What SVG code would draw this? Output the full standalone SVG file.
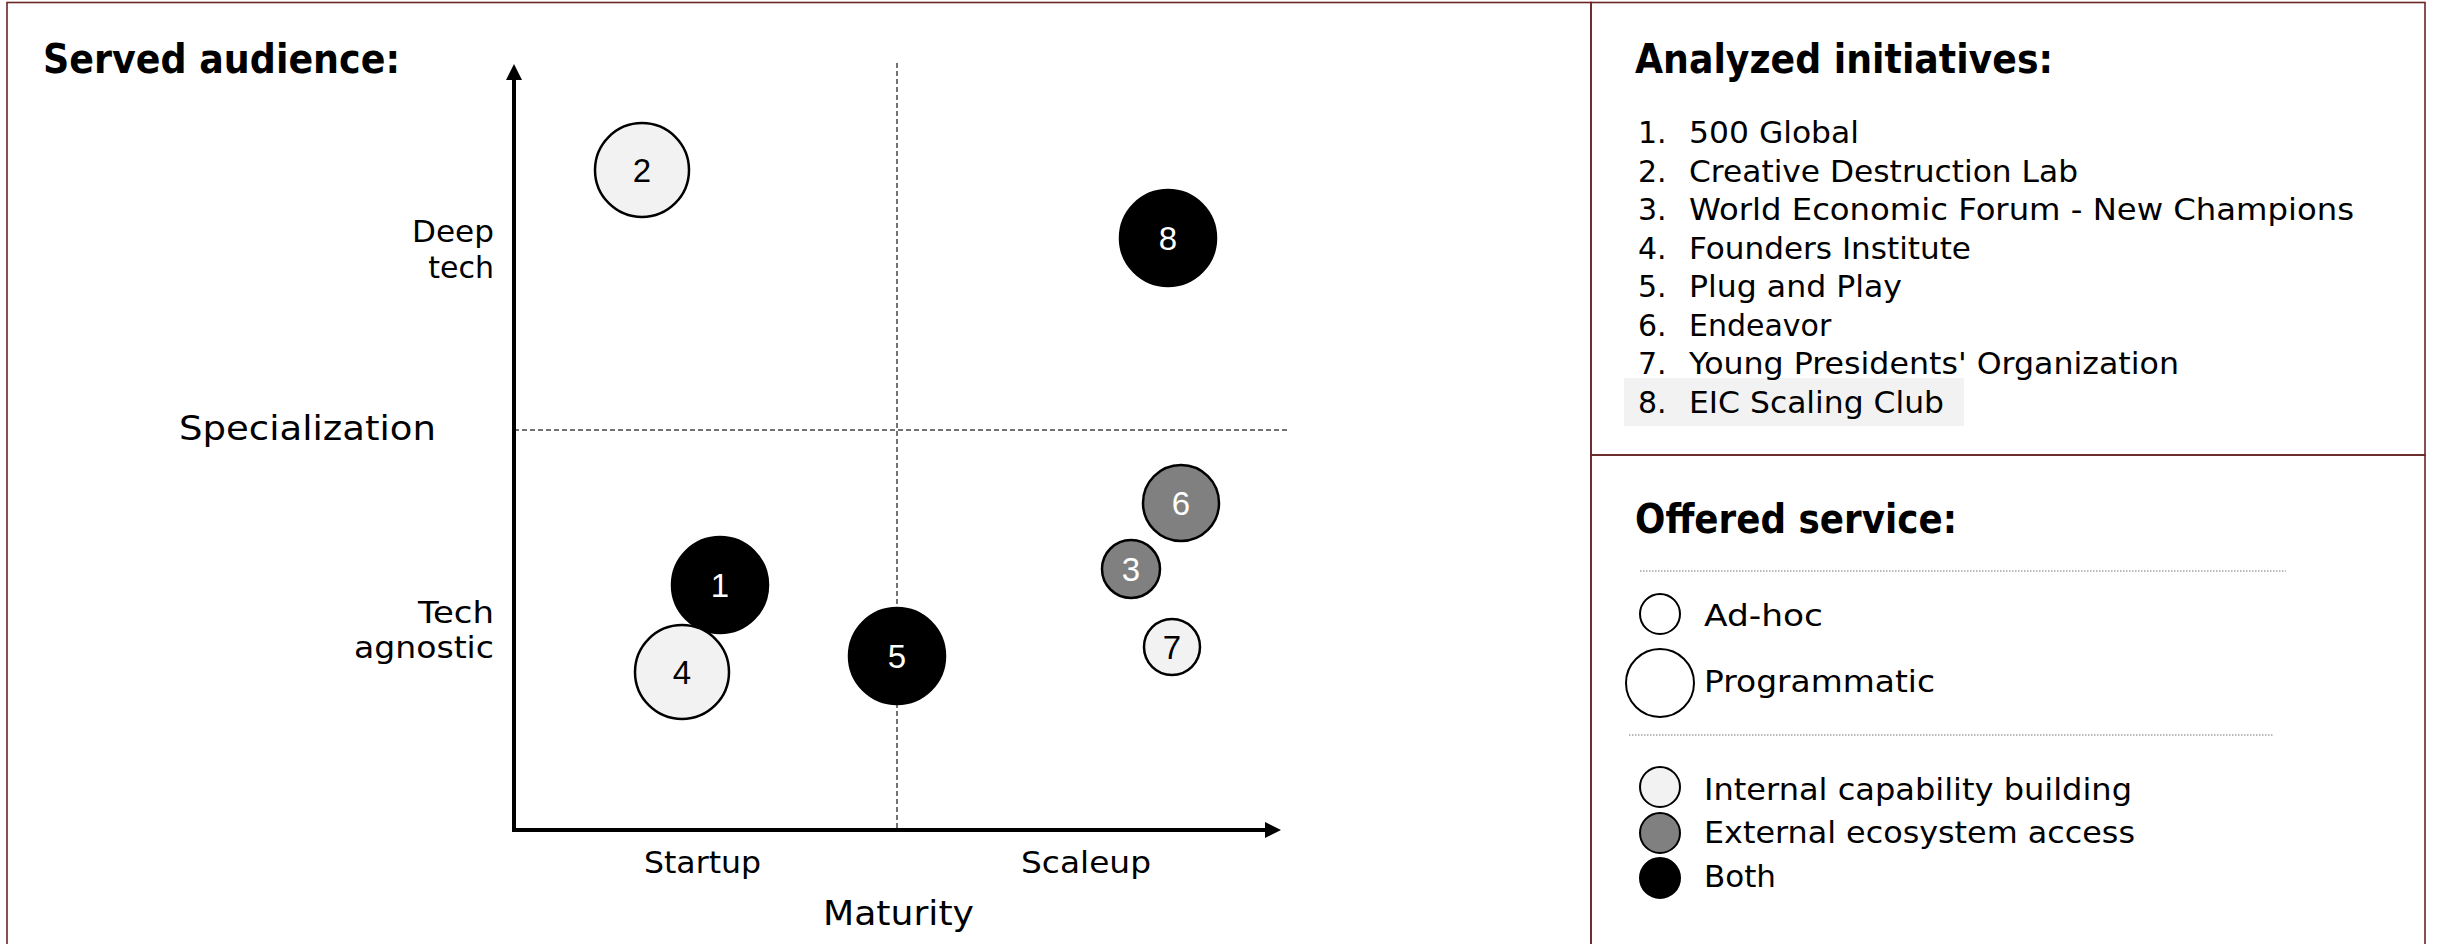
<svg xmlns="http://www.w3.org/2000/svg" width="2438" height="944" viewBox="0 0 2438 944">
<defs>
<style>
.frame{fill:none;stroke:#6a2626;stroke-width:1.6}
.head{font-family:"DejaVu Sans","Noto Sans",sans-serif;font-weight:bold;font-size:40px;fill:#000}
.lbl{font-family:"DejaVu Sans","Noto Sans",sans-serif;font-size:30px;fill:#000}
.big{font-family:"DejaVu Sans","Noto Sans",sans-serif;font-size:34px;fill:#000}
.item{font-family:"DejaVu Sans","Noto Sans",sans-serif;font-size:30px;fill:#000}
.num{font-family:"Liberation Sans",Arial,sans-serif;font-size:33px;text-anchor:middle}
.light{fill:#f2f2f2;stroke:#000;stroke-width:2.5}
.gray{fill:#808080;stroke:#000;stroke-width:2.5}
.dark{fill:#000;stroke:#000;stroke-width:2.5}
.dash{stroke:#444;stroke-width:1.5;stroke-dasharray:5 3;fill:none}
.dot{stroke:#777;stroke-width:1.2;stroke-dasharray:1.5 1.5;fill:none}
.axis{stroke:#000;stroke-width:4;fill:none}
</style>
<marker id="arr" viewBox="0 0 10 10" refX="0" refY="5" markerWidth="4" markerHeight="4.4" markerUnits="strokeWidth" orient="auto">
<path d="M0,0 L10,5 L0,10 z" fill="#000"/>
</marker>
</defs>
<rect width="2438" height="944" fill="#fff"/>
<g id="frames">
<rect class="frame" x="7" y="2.5" width="1584" height="960"/>
<rect class="frame" x="1591" y="2.5" width="834" height="452.5"/>
<rect class="frame" x="1591" y="455" width="834" height="510"/>
</g>
<g id="connectors">
<line class="dash" x1="897" y1="63" x2="897" y2="830"/>
<line class="dash" x1="514" y1="430" x2="1287" y2="430"/>
<line class="axis" x1="514" y1="832" x2="514" y2="80" marker-end="url(#arr)"/>
<line class="axis" x1="512" y1="830" x2="1265" y2="830" marker-end="url(#arr)"/>
</g>
<g id="axis-labels">
<text class="head" x="43" y="73" textLength="357" lengthAdjust="spacingAndGlyphs">Served audience:</text>
<text class="lbl" x="412" y="242" textLength="82" lengthAdjust="spacingAndGlyphs">Deep</text>
<text class="lbl" x="494" y="278" text-anchor="end">tech</text>
<text class="big" x="179" y="440" textLength="257" lengthAdjust="spacingAndGlyphs">Specialization</text>
<text class="lbl" x="418" y="623" textLength="76" lengthAdjust="spacingAndGlyphs">Tech</text>
<text class="lbl" x="354" y="658" textLength="140" lengthAdjust="spacingAndGlyphs">agnostic</text>
<text class="lbl" x="644" y="873" textLength="117" lengthAdjust="spacingAndGlyphs">Startup</text>
<text class="lbl" x="1021" y="873" textLength="130" lengthAdjust="spacingAndGlyphs">Scaleup</text>
<text class="big" x="823" y="925" textLength="151" lengthAdjust="spacingAndGlyphs">Maturity</text>
</g>
<g id="node-2"><circle class="light" cx="642" cy="170" r="47"/><text class="num" x="642" y="182" fill="#000">2</text></g>
<g id="node-8"><circle class="dark" cx="1168" cy="238" r="48"/><text class="num" x="1168" y="250" fill="#fff">8</text></g>
<g id="node-6"><circle class="gray" cx="1181" cy="503" r="38"/><text class="num" x="1181" y="515" fill="#fff">6</text></g>
<g id="node-3"><circle class="gray" cx="1131" cy="569" r="29"/><text class="num" x="1131" y="581" fill="#fff">3</text></g>
<g id="node-7"><circle class="light" cx="1172" cy="647" r="28"/><text class="num" x="1172" y="659" fill="#000">7</text></g>
<g id="node-1"><circle class="dark" cx="720" cy="585" r="48"/><text class="num" x="720" y="597" fill="#fff">1</text></g>
<g id="node-4"><circle class="light" cx="682" cy="672" r="47"/><text class="num" x="682" y="684" fill="#000">4</text></g>
<g id="node-5"><circle class="dark" cx="897" cy="656" r="48"/><text class="num" x="897" y="668" fill="#fff">5</text></g>
<g id="initiatives">
<text class="head" x="1635" y="73" textLength="418" lengthAdjust="spacingAndGlyphs">Analyzed initiatives:</text>
<rect x="1624" y="378" width="340" height="48" fill="#f2f2f2"/>
<text class="item" x="1638" y="143">1.</text><text class="item" x="1689" y="143" textLength="170" lengthAdjust="spacingAndGlyphs">500 Global</text>
<text class="item" x="1638" y="181.5">2.</text><text class="item" x="1689" y="181.5" textLength="389" lengthAdjust="spacingAndGlyphs">Creative Destruction Lab</text>
<text class="item" x="1638" y="220">3.</text><text class="item" x="1689" y="220" textLength="665" lengthAdjust="spacingAndGlyphs">World Economic Forum - New Champions</text>
<text class="item" x="1638" y="258.5">4.</text><text class="item" x="1689" y="258.5" textLength="282" lengthAdjust="spacingAndGlyphs">Founders Institute</text>
<text class="item" x="1638" y="297">5.</text><text class="item" x="1689" y="297" textLength="213" lengthAdjust="spacingAndGlyphs">Plug and Play</text>
<text class="item" x="1638" y="335.5">6.</text><text class="item" x="1689" y="335.5">Endeavor</text>
<text class="item" x="1638" y="374">7.</text><text class="item" x="1689" y="374" textLength="490" lengthAdjust="spacingAndGlyphs">Young Presidents' Organization</text>
<text class="item" x="1638" y="412.5">8.</text><text class="item" x="1689" y="412.5" textLength="255" lengthAdjust="spacingAndGlyphs">EIC Scaling Club</text>
</g>
<g id="legend">
<text class="head" x="1635" y="533" textLength="322" lengthAdjust="spacingAndGlyphs">Offered service:</text>
<line class="dot" x1="1640" y1="571" x2="2286" y2="571"/>
<circle cx="1660" cy="614" r="20" fill="#fff" stroke="#000" stroke-width="2"/>
<text class="item" x="1704" y="626" textLength="119" lengthAdjust="spacingAndGlyphs">Ad-hoc</text>
<circle cx="1660" cy="683" r="34" fill="#fff" stroke="#000" stroke-width="2"/>
<text class="item" x="1704" y="692" textLength="231" lengthAdjust="spacingAndGlyphs">Programmatic</text>
<line class="dot" x1="1629" y1="735" x2="2274" y2="735"/>
<circle cx="1660" cy="787" r="20" fill="#f2f2f2" stroke="#000" stroke-width="2"/>
<text class="item" x="1704" y="800" textLength="428" lengthAdjust="spacingAndGlyphs">Internal capability building</text>
<circle cx="1660" cy="833" r="20" fill="#808080" stroke="#000" stroke-width="2"/>
<text class="item" x="1704" y="843" textLength="431" lengthAdjust="spacingAndGlyphs">External ecosystem access</text>
<circle cx="1660" cy="878" r="20" fill="#000" stroke="#000" stroke-width="2"/>
<text class="item" x="1704" y="887" textLength="72" lengthAdjust="spacingAndGlyphs">Both</text>
</g>
</svg>
